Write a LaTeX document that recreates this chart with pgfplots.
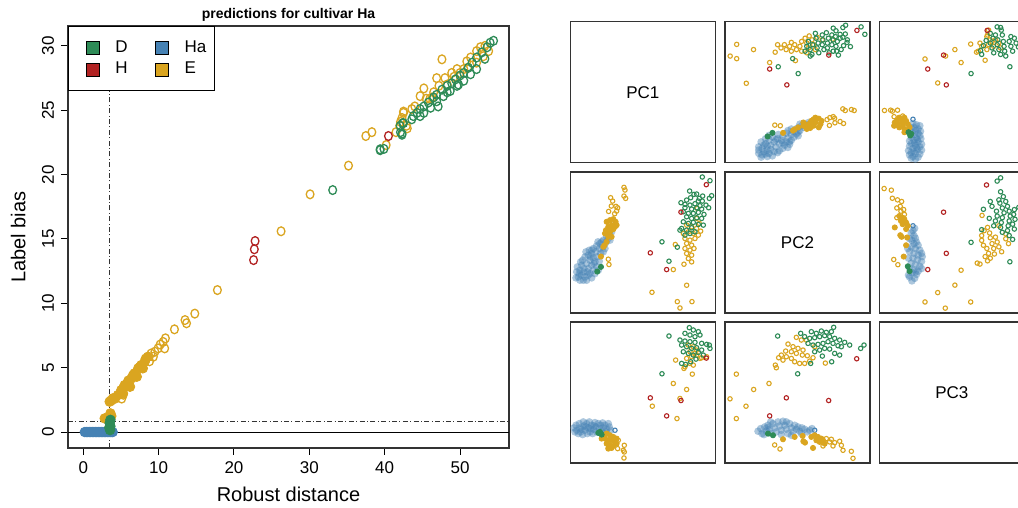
\documentclass[border=0pt]{standalone}
\usepackage{fontspec}
\setmainfont{Liberation Sans}
\usepackage{pgfplots}
\usepackage{pgfplotstable}
\pgfplotsset{compat=1.18}
\definecolor{Dc}{HTML}{2E8B57}
\definecolor{Hc}{HTML}{B22222}
\definecolor{Hac}{HTML}{4682B4}
\definecolor{Ec}{HTML}{DAA520}

% ---------- left panel data ----------
\pgfplotstableread{
x y
0.2 0
0.4 0
0.6 0
0.8 0
1.0 0
1.2 0
1.4 0
1.6 0
1.8 0
2.0 0
2.2 0
2.4 0
2.6 0
2.8 0
3.0 0
3.2 0
3.4 0
3.6 0
3.8 0
3.9 0
}\LHa
\pgfplotstableread{
x y
3.55 0.15
3.45 0.35
3.6 0.45
3.5 0.7
3.6 0.95
}\LDf
\pgfplotstableread{
x y
2.84 1.06
3.72 1.24
3.6 1.45
3.5 2.36
3.7 2.45
3.94 2.62
4.2 2.6
4.6 2.87
5.05 3.26
5.27 3.0
5.3 3.4
5.5 3.65
5.94 3.9
6.0 4.0
6.2 3.52
6.4 4.17
6.6 4.4
6.8 4.56
7.1 4.3
7.3 4.95
7.5 5.05
7.7 5.2
7.9 4.95
8.15 5.46
8.3 5.7
8.6 5.85
}\LEf
\pgfplotstableread{
x y
5.1 2.6
5.3 2.9
6.1 3.6
8.8 5.5
9.0 6.1
9.3 5.85
9.5 6.24
9.92 6.5
10.2 6.8
10.6 7.0
10.9 7.28
10.8 6.5
12.1 7.98
13.5 8.7
13.7 8.45
14.8 9.2
17.8 11.03
26.25 15.6
30.1 18.47
35.2 20.7
37.5 23.0
38.3 23.3
40.2 22.3
41.5 23.3
42.5 24.8
42.1 24.1
43.0 23.6
47.6 28.96
46.9 27.5
45.2 26.7
44.7 26.1
43.6 25.1
42.5 24.9
42.3 24.4
42.0 23.8
42.9 23.8
48.0 27.5
48.9 27.9
49.6 28.2
50.9 28.8
51.4 29.1
52.2 29.6
52.7 29.9
53.3 30.0
53.1 29.2
53.8 29.6
48.3 27.0
46.5 26.4
46.0 25.9
52.2 28.7
50.5 28.2
44.0 25.3
45.5 25.9
47.2 26.9
49.2 27.6
51.0 28.3
50.0 27.9
46.3 26.0
}\LEo
\pgfplotstableread{
x y
33.1 18.8
39.4 21.9
39.9 22.0
42.1 23.3
42.4 24.0
42.3 23.1
39.4 21.97
42.3 23.2
42.05 23.8
42.5 24.0
43.8 24.55
44.3 24.8
44.7 25.1
45.2 25.3
45.8 25.6
46.5 26.0
46.9 26.2
47.6 26.6
48.3 26.9
48.9 27.1
49.4 27.4
50.0 27.7
50.5 27.9
51.1 28.3
51.6 28.7
52.2 29.1
52.9 29.5
53.6 29.9
54.0 30.25
54.45 30.4
45.2 24.8
46.1 25.2
46.9 25.7
47.8 26.1
48.7 26.5
49.6 26.9
50.5 27.3
51.4 27.8
52.2 28.2
53.3 29.0
43.6 24.3
44.7 24.55
48.3 26.4
49.8 27.0
47.1 25.3
}\LDo
\pgfplotstableread{
x y
22.6 13.36
22.7 14.2
22.8 14.84
40.5 23.0
}\LHo

% ---------- pairs panel (2,1): x=PC1, y=PC2 ----------
\pgfplotstableread{
x y
20 300
25 315
30 325
22 285
30 295
35 280
40 300
45 315
50 325
38 265
45 255
50 275
55 290
60 305
65 318
48 240
55 250
60 265
65 280
70 295
75 305
58 235
65 245
70 258
75 270
80 285
85 295
70 230
78 240
82 255
88 268
80 222
88 230
92 245
90 215
98 225
100 240
100 205
108 212
110 195
115 200
118 185
125 180
128 168
120 205
35 310
42 290
52 300
62 255
72 275
28 305
40 325
55 310
66 235
84 210
95 210
105 230
18 318
32 270
}\PAHa
\pgfplotstableread{
x y
135 158
}\PAHao
\pgfplotstableread{
x y
110 150
120 145
130 142
137 150
140 160
125 160
115 165
108 175
120 180
105 185
130 172
125 195
115 195
110 210
104 220
100 225
93 254
135 165
118 172
}\PAEf
\pgfplotstableread{
x y
93 285
82 299
}\PADf
\pgfplotstableread{
x y
162 47
165 55
162 73
167 80
122 78
128 88
124 103
138 104
143 108
116 119
140 118
134 126
115 262
117 278
350 160
365 165
380 170
355 180
370 185
385 190
345 200
360 205
375 200
350 215
365 220
345 230
360 235
372 230
350 245
365 250
355 260
365 270
342 277
316 218
310 293
350 340
246 361
322 389
330 408
366 389
380 140
382 110
388 155
392 178
340 185
}\PAEo
\pgfplotstableread{
x y
397 16
420 27
359 58
372 68
380 67
398 73
418 80
385 88
397 88
333 93
345 98
360 100
375 96
390 102
345 108
365 112
380 108
395 112
340 120
355 125
370 125
385 122
350 135
365 140
380 138
395 140
340 150
355 155
370 152
385 158
400 160
335 170
350 175
365 168
345 190
360 185
375 180
276 210
322 226
297 268
416 108
425 72
408 100
402 128
330 175
350 85
362 78
388 80
}\PADo
\pgfplotstableread{
x y
409 39
333 121
241 243
290 293
}\PAHo

% ---------- pairs panel (3,1): x=PC1, y=PC3 ----------
\pgfplotstableread{
x y
12 318
18 310
20 325
28 305
30 318
32 330
40 300
42 312
45 325
50 305
55 318
58 300
60 330
65 310
70 322
75 302
78 315
85 305
88 320
92 310
98 303
100 318
105 310
110 322
115 305
118 315
122 325
25 335
38 338
52 335
68 335
80 330
95 328
108 330
15 330
48 315
62 320
35 322
72 312
}\PBHa
\pgfplotstableread{
x y
135 325
}\PBHao
\pgfplotstableread{
x y
85 333
95 338
90 330
}\PBDf
\pgfplotstableread{
x y
100 340
110 335
120 340
130 345
140 350
105 350
115 355
125 355
135 360
110 365
120 370
130 372
140 365
115 380
125 378
95 350
}\PBEf
\pgfplotstableread{
x y
143 380
163 370
160 385
163 390
162 408
115 378
145 355
355 70
370 75
380 85
360 90
375 95
365 105
380 100
390 110
350 110
360 125
370 130
345 135
317 115
342 140
367 157
310 185
350 203
330 230
247 253
321 290
395 108
410 105
}\PBEo
\pgfplotstableread{
x y
358 18
370 25
385 30
345 35
360 40
375 45
390 40
330 55
345 58
360 60
375 62
395 65
410 68
297 43
335 70
350 75
365 80
380 78
395 85
340 90
355 95
370 100
385 92
400 100
420 80
418 70
362 120
335 125
347 128
378 112
276 156
}\PBDo
\pgfplotstableread{
x y
241 228
333 236
290 282
409 109
}\PBHo

% ---------- pairs panel (3,2): x=PC2, y=PC3 ----------
\pgfplotstableread{
x y
100 328
108 320
112 335
120 315
125 328
130 310
135 322
140 335
145 305
150 318
155 330
160 300
165 312
170 325
175 298
180 310
185 322
190 335
195 305
200 318
205 330
210 310
215 322
220 315
225 328
232 318
240 322
248 330
255 325
118 338
138 300
170 338
200 340
230 335
262 320
185 300
128 318
}\PCHa
\pgfplotstableread{
x y
270 325
}\PCHao
\pgfplotstableread{
x y
130 335
145 340
}\PCDf
\pgfplotstableread{
x y
175 352
210 345
234 342
236 358
241 362
265 378
260 345
270 340
280 345
290 350
275 355
285 360
295 355
300 365
}\PCEf
\pgfplotstableread{
x y
150 369
166 381
305 350
315 360
320 352
330 362
325 372
345 358
350 370
355 385
380 388
385 409
295 372
215 47
230 55
245 55
190 67
205 75
220 80
235 85
200 90
215 95
183 88
170 100
185 105
200 110
162 108
175 115
210 120
225 125
240 125
255 118
265 108
152 130
155 138
233 100
248 102
302 124
35 157
133 185
87 203
16 231
64 253
35 290
270 75
}\PCEo
\pgfplotstableread{
x y
260 30
275 35
290 28
305 32
320 30
327 17
240 45
255 50
270 48
285 45
300 42
315 45
330 50
345 55
360 62
375 70
250 65
265 70
280 68
295 65
310 60
325 65
340 72
270 90
285 85
300 80
315 82
330 95
345 100
293 103
321 120
258 125
219 156
228 35
159 43
408 80
418 70
350 75
}\PCDo
\pgfplotstableread{
x y
396 111
185 228
312 236
135 282
}\PCHo

\pgfplotsset{
  lop/.style={only marks, mark=o, mark size=2.2pt, mark options={line width=0.65pt, xscale=0.88}, forget plot},
  lfl/.style={only marks, mark=*, mark size=2.4pt, forget plot},
  blob/.style={only marks, mark=*, mark size=1.9pt, color=Hac, mark options={draw opacity=0, fill opacity=0.45}},
  pop/.style={only marks, mark=o, mark size=1.1pt, mark options={line width=0.55pt}},
  pfl/.style={only marks, mark=*, mark size=1.3pt},
  pairax/.style={scale only axis, width=72.5pt, height=70.5pt, ticks=none,
    anchor=south west, axis line style={black!80, line width=0.6pt}},
  lowax/.style={pairax, xmin=1, xmax=436, ymin=1, ymax=423, y dir=reverse},
  upax/.style={pairax, xmin=1, xmax=423, x dir=reverse, ymin=1, ymax=436},
  diagax/.style={pairax, xmin=0, xmax=1, ymin=0, ymax=1},
}
\newcommand\fs{\fontsize{8.5}{10}\selectfont}

\begin{document}
\begin{tikzpicture}
\useasboundingbox (0,0) rectangle (509pt,254pt);

% ================= left plot =================
\begin{axis}[at={(34pt,30pt)}, anchor=south west, scale only axis,
  width=220.5pt, height=211pt,
  xmin=-2.03, xmax=56.5, ymin=-1.24, ymax=31.55,
  xtick={0,10,...,50}, ytick={0,5,...,30},
  tick align=outside, tick pos=left, major tick length=3.5pt,
  major tick style={black, line width=0.5pt},
  axis line style={black!80, line width=0.6pt},
  /pgf/number format/assume math mode=true,
  tick label style={font=\fs},
  yticklabel style={rotate=90},
  label style={font=\fs},
  xlabel={Robust distance}, ylabel={Label bias},
  every axis x label/.style={at={(axis description cs:0.5,-0.111)}, anchor=center},
  every axis y label/.style={at={(axis description cs:-0.113,0.5)}, anchor=center, rotate=90},
  title={predictions for cultivar Ha},
  every axis title/.style={at={(axis description cs:0.5,1.027)}, anchor=center, font=\bfseries\fontsize{7}{8}\selectfont},
  legend columns=2, legend cell align=left,
  legend style={at={(0,1)}, anchor=north west, draw=black, fill=white, line width=0.5pt,
    font=\fs, inner xsep=2pt, inner ysep=5pt, row sep=-0.5pt,
    /tikz/every odd column/.append style={column sep=6pt},
    /tikz/every even column/.append style={column sep=5pt}},
  legend image code/.code={\path (0pt,0pt); \draw[#1, draw=black, line width=0.4pt] (6.5pt,-3.2pt) rectangle (13pt,3.2pt);},
]
\addlegendimage{fill=Dc}\addlegendentry{D}
\addlegendimage{fill=Hac}\addlegendentry{Ha}
\addlegendimage{fill=Hc}\addlegendentry{H}
\addlegendimage{fill=Ec}\addlegendentry{E}
\addplot[lfl, color=Hac] table {\LHa};
\addplot[lfl, color=Ec] table {\LEf};
\addplot[lfl, color=Dc] table {\LDf};
\addplot[lop, color=Ec] table {\LEo};
\addplot[lop, color=Dc] table {\LDo};
\addplot[lop, color=Hc] table {\LHo};
\addplot[black, line width=0.5pt, forget plot] coordinates {(-2.03,0) (56.5,0)};
\addplot[black!80, line width=0.5pt, dash pattern=on 2.5pt off 1.2pt on 0.5pt off 1.2pt, forget plot] coordinates {(-2.03,0.83) (56.5,0.83)};
\addplot[black!80, line width=0.5pt, dash pattern=on 2.5pt off 1.2pt on 0.5pt off 1.2pt, forget plot] coordinates {(3.45,-1.24) (3.45,31.55)};
\end{axis}

% ================= pairs matrix =================
% row 1
\begin{axis}[diagax, at={(285.15pt,172.65pt)}]
\node[font=\fs] at (rel axis cs:0.5,0.5) {PC1};
\end{axis}
\begin{axis}[upax, at={(362.5pt,172.65pt)}]
\addplot[blob] table[x=y,y=x] {\PAHa};
\addplot[pop, color=Hac] table[x=y,y=x] {\PAHao};
\addplot[pfl, color=Ec] table[x=y,y=x] {\PAEf};
\addplot[pfl, color=Dc] table[x=y,y=x] {\PADf};
\addplot[pop, color=Ec] table[x=y,y=x] {\PAEo};
\addplot[pop, color=Dc] table[x=y,y=x] {\PADo};
\addplot[pop, color=Hc] table[x=y,y=x] {\PAHo};
\end{axis}
\begin{axis}[upax, at={(439.65pt,172.65pt)}]
\addplot[blob] table[x=y,y=x] {\PBHa};
\addplot[pop, color=Hac] table[x=y,y=x] {\PBHao};
\addplot[pfl, color=Ec] table[x=y,y=x] {\PBEf};
\addplot[pfl, color=Dc] table[x=y,y=x] {\PBDf};
\addplot[pop, color=Ec] table[x=y,y=x] {\PBEo};
\addplot[pop, color=Dc] table[x=y,y=x] {\PBDo};
\addplot[pop, color=Hc] table[x=y,y=x] {\PBHo};
\end{axis}
% row 2
\begin{axis}[lowax, at={(285.15pt,97.5pt)}]
\addplot[blob] table {\PAHa};
\addplot[pop, color=Hac] table {\PAHao};
\addplot[pfl, color=Ec] table {\PAEf};
\addplot[pfl, color=Dc] table {\PADf};
\addplot[pop, color=Ec] table {\PAEo};
\addplot[pop, color=Dc] table {\PADo};
\addplot[pop, color=Hc] table {\PAHo};
\end{axis}
\begin{axis}[diagax, at={(362.5pt,97.5pt)}]
\node[font=\fs] at (rel axis cs:0.5,0.5) {PC2};
\end{axis}
\begin{axis}[upax, at={(439.65pt,97.5pt)}]
\addplot[blob] table[x=y,y=x] {\PCHa};
\addplot[pop, color=Hac] table[x=y,y=x] {\PCHao};
\addplot[pfl, color=Ec] table[x=y,y=x] {\PCEf};
\addplot[pfl, color=Dc] table[x=y,y=x] {\PCDf};
\addplot[pop, color=Ec] table[x=y,y=x] {\PCEo};
\addplot[pop, color=Dc] table[x=y,y=x] {\PCDo};
\addplot[pop, color=Hc] table[x=y,y=x] {\PCHo};
\end{axis}
% row 3
\begin{axis}[lowax, at={(285.15pt,22.5pt)}]
\addplot[blob] table {\PBHa};
\addplot[pop, color=Hac] table {\PBHao};
\addplot[pfl, color=Ec] table {\PBEf};
\addplot[pfl, color=Dc] table {\PBDf};
\addplot[pop, color=Ec] table {\PBEo};
\addplot[pop, color=Dc] table {\PBDo};
\addplot[pop, color=Hc] table {\PBHo};
\end{axis}
\begin{axis}[lowax, at={(362.5pt,22.5pt)}]
\addplot[blob] table {\PCHa};
\addplot[pop, color=Hac] table {\PCHao};
\addplot[pfl, color=Ec] table {\PCEf};
\addplot[pfl, color=Dc] table {\PCDf};
\addplot[pop, color=Ec] table {\PCEo};
\addplot[pop, color=Dc] table {\PCDo};
\addplot[pop, color=Hc] table {\PCHo};
\end{axis}
\begin{axis}[diagax, at={(439.65pt,22.5pt)}]
\node[font=\fs] at (rel axis cs:0.5,0.5) {PC3};
\end{axis}
\end{tikzpicture}
\end{document}
